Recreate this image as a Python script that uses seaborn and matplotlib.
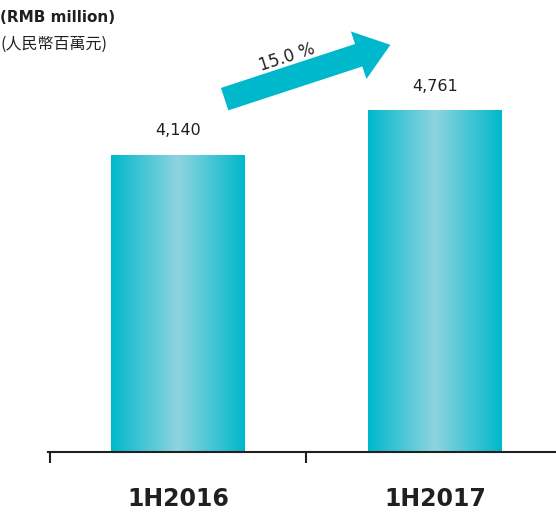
import numpy as np
import pandas as pd
import matplotlib.pyplot as plt
import matplotlib.colors as mcolors
from matplotlib.patches import FancyArrowPatch
import seaborn as sns

periods = ["1H2016", "1H2017"]
profit = [4140, 4761]
value_labels = ["4,140", "4,761"]
growth_label = "15.0 %"

sns.set_style("white")
plt.rcParams['font.family'] = ['DejaVu Sans', 'Noto Sans CJK TC']

df = pd.DataFrame({"period": periods, "profit": profit})

fig = plt.figure(figsize=(5.56, 5.12), dpi=100)
ax = fig.add_axes([48 / 556, 1 - 452 / 512, 1 - 48 / 556, 452 / 512])

sns.barplot(data=df, x="period", y="profit", color="#00b8cc", width=0.52, ax=ax)
ax.set_xlim(-0.506, 1.471)
ax.set_ylim(0, 452 / (297 / 4140))

# horizontal gradient fill: cyan edges, pale centre
grad = mcolors.LinearSegmentedColormap.from_list("bar", ["#00b8cc", "#8fd4df", "#00b8cc"])
g = np.linspace(0, 1, 256).reshape(1, -1)
for bar in ax.patches:
    x0, y0 = bar.get_x(), bar.get_y()
    w, h = bar.get_width(), bar.get_height()
    im = ax.imshow(g, cmap=grad, extent=[x0, x0 + w, y0, y0 + h], aspect="auto", zorder=bar.get_zorder() + 0.1)
    im.set_clip_path(bar)

for i, (v, lab) in enumerate(zip(profit, value_labels)):
    ax.text(i, v + 340, lab, ha="center", va="center", fontsize=11.5, color="#231f20")

sns.despine(ax=ax, left=True)
ax.spines["bottom"].set_color("#231f20")
ax.spines["bottom"].set_linewidth(1.5)
ax.set_yticks([])
ax.set_xlabel("")
ax.set_ylabel("")
ax.set_xticks([-0.5, 0.5], minor=True)
ax.tick_params(axis="x", which="minor", bottom=True, length=8, width=1.5, color="#231f20", direction="out")
ax.tick_params(axis="x", which="major", length=0, pad=25, labelsize=17, labelcolor="#231f20")
for t in ax.get_xticklabels():
    t.set_fontweight("bold")

# growth arrow
fig.patches.append(FancyArrowPatch(
    (222, 512 - 100), (393, 512 - 44), transform=None,
    arrowstyle="simple,head_length=24,head_width=36,tail_width=17",
    mutation_scale=1, color="#00b8cc", lw=0))
fig.text(287 / 556, 1 - 57 / 512, growth_label, rotation=18, ha="center", va="center",
         fontsize=12, color="#231f20")

fig.text(0, 1 - 18 / 512, "(RMB million)", fontsize=11, fontweight="bold",
         color="#231f20", ha="left", va="center")
fig.text(0, 1 - 44 / 512, "(人民幣百萬元)", fontsize=11.5, color="#231f20",
         ha="left", va="center", family=['Noto Sans CJK TC', 'DejaVu Sans'])

fig.savefig("out.png", dpi=100)
